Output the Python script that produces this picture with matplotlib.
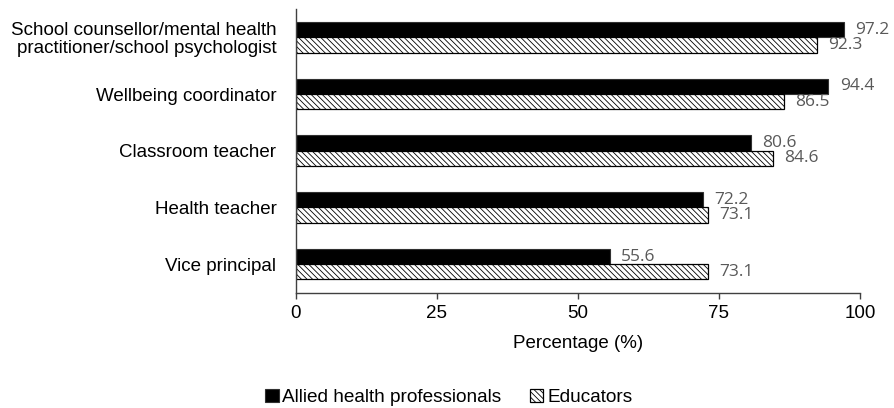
import matplotlib.pyplot as plt
import numpy as np

plt.rcParams['font.family'] = ['Liberation Sans', 'DejaVu Sans']
plt.rcParams['hatch.linewidth'] = 0.6

# --- DATA ---
categories = ["School counsellor/mental health\npractitioner/school psychologist",
              "Wellbeing coordinator", "Classroom teacher",
              "Health teacher", "Vice principal"]
allied = [97.2, 94.4, 80.6, 72.2, 55.6]
educators = [92.3, 86.5, 84.6, 73.1, 73.1]
series_names = ["Allied health professionals", "Educators"]

fig = plt.figure(figsize=(8.94, 4.08), dpi=100)
ax = fig.add_axes([0.331, 0.283, 0.631, 0.695])

y = np.arange(len(categories))
h = 0.27
b1 = ax.barh(y - h / 2, allied, height=h, color='black', edgecolor='#303030',
             linewidth=0.8, label=series_names[0])
b2 = ax.barh(y + h / 2, educators, height=h, color='white', edgecolor='black',
             hatch='\\\\\\\\\\\\', linewidth=0.9, label=series_names[1])

# value labels next to bar ends
for bars, vals in ((b1, allied), (b2, educators)):
    for bar, v in zip(bars, vals):
        ax.text(v + 2.0, bar.get_y() + bar.get_height() / 2, f"{v:.1f}",
                va='center', ha='left', fontsize=12.5, color='#595959',
                family=['Open Sans', 'DejaVu Sans'])

ax.set_yticks(y)
ax.set_yticklabels(categories, fontsize=13.5, linespacing=1.05)
ax.set_ylim(len(categories) - 0.5, -0.5)
ax.set_xlim(0, 100)
ax.set_xticks([0, 25, 50, 75, 100])
ax.tick_params(axis='x', labelsize=13.5, length=4, width=1.0, color='#404040',
               direction='out', pad=5)
ax.tick_params(axis='y', length=0, pad=14)
ax.set_xlabel("Percentage (%)", fontsize=13.5, labelpad=9)

for s in ['top', 'right']:
    ax.spines[s].set_visible(False)
for s in ['left', 'bottom']:
    ax.spines[s].set_color('#404040')
    ax.spines[s].set_linewidth(1.0)

fig.legend(handles=[b1, b2], loc='center', bbox_to_anchor=(0.502, 0.025),
           ncol=2, frameon=False, fontsize=13.7, handlelength=0.7,
           handleheight=0.7, handletextpad=0.2, columnspacing=1.5)

fig.savefig('out.png', dpi=100)
